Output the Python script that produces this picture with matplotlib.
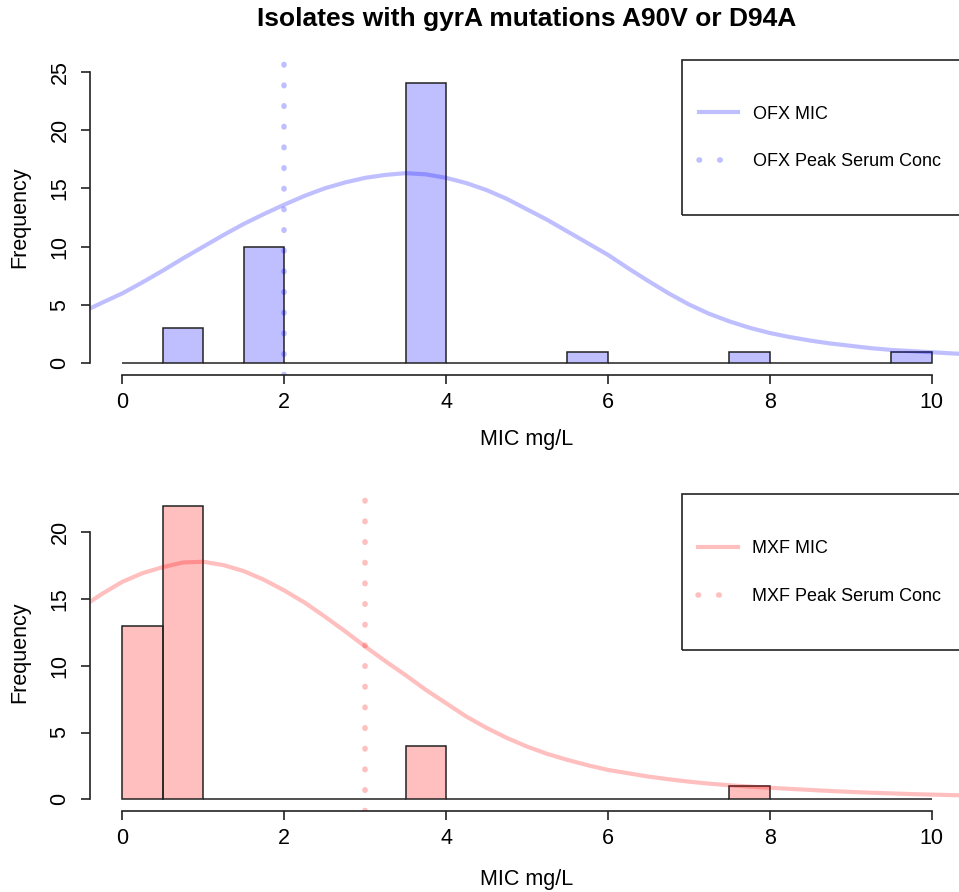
import matplotlib.pyplot as plt
from matplotlib.patches import Rectangle
from matplotlib.lines import Line2D

plt.rcParams['font.family'] = ['Liberation Sans', 'DejaVu Sans']

# histogram bins (left edges, width 0.5) and counts
bin_left = [0.0, 0.5, 1.0, 1.5, 2.0, 2.5, 3.0, 3.5, 4.0, 4.5,
            5.0, 5.5, 6.0, 6.5, 7.0, 7.5, 8.0, 8.5, 9.0, 9.5]
ofx_counts = [0, 3, 0, 10, 0, 0, 0, 24, 0, 0, 0, 1, 0, 0, 0, 1, 0, 0, 0, 1]
mxf_counts = [13, 22, 0, 0, 0, 0, 0, 4, 0, 0, 0, 0, 0, 0, 0, 1, 0, 0, 0, 0]

# fitted curves
curve_x = [-0.4, -0.25, 0.0, 0.25, 0.5, 0.75, 1.0, 1.25, 1.5, 1.75, 2.0, 2.25,
           2.5, 2.75, 3.0, 3.25, 3.5, 3.75, 4.0, 4.25, 4.5, 4.75, 5.0, 5.25,
           5.5, 5.75, 6.0, 6.25, 6.5, 6.75, 7.0, 7.25, 7.5, 7.75, 8.0, 8.25,
           8.5, 8.75, 9.0, 9.25, 9.5, 9.75, 10.0, 10.25, 10.4]
ofx_curve = [4.7, 5.2, 6.0, 6.95, 7.95, 9.0, 10.0, 11.0, 11.95, 12.8, 13.6, 14.35,
             15.0, 15.5, 15.9, 16.15, 16.3, 16.2, 15.9, 15.45, 14.85, 14.1, 13.2, 12.3,
             11.3, 10.3, 9.3, 8.15, 7.05, 6.0, 5.05, 4.25, 3.6, 3.05, 2.6, 2.25,
             1.95, 1.7, 1.5, 1.3, 1.15, 1.05, 0.95, 0.85, 0.8]
mxf_curve = [14.8, 15.4, 16.3, 16.95, 17.4, 17.75, 17.8, 17.55, 17.1, 16.45, 15.65, 14.75,
             13.7, 12.6, 11.45, 10.35, 9.3, 8.2, 7.2, 6.2, 5.35, 4.6, 3.95, 3.4,
             2.95, 2.55, 2.2, 1.95, 1.7, 1.5, 1.32, 1.17, 1.05, 0.95, 0.86, 0.78,
             0.7, 0.62, 0.55, 0.49, 0.44, 0.39, 0.35, 0.31, 0.29]

ofx_peak = 2
mxf_peak = 3

W, H = 959, 892
fig = plt.figure(figsize=(W / 100, H / 100), dpi=100)
DOTS = (0, (0.1, 3.62))


def px_axes(left, top, right, bottom):
    return fig.add_axes([left / W, 1 - bottom / H, (right - left) / W, (bottom - top) / H])


def panel(ax, counts, curve, peak, rgb, name, ylim, ymax_tick):
    col = rgb + (0.25,)
    ax.bar(bin_left, counts, width=0.5, align='edge', color=col,
           edgecolor='#222222', linewidth=1.1)
    ax.plot(curve_x, curve, color=col, lw=3, solid_joinstyle='round')
    ax.axvline(peak, color=col, lw=4, linestyle=DOTS, dash_capstyle='round')
    ax.set_xlim(-0.4, 10.4)
    ax.set_ylim(*ylim)
    for s in ['top', 'right']:
        ax.spines[s].set_visible(False)
    for s in ['left', 'bottom']:
        ax.spines[s].set_linewidth(1.2)
        ax.spines[s].set_color('#222222')
    ax.spines['bottom'].set_bounds(0, 10)
    ax.spines['left'].set_bounds(0, ymax_tick)
    ax.set_xticks([0, 2, 4, 6, 8, 10])
    ax.set_yticks(list(range(0, ymax_tick + 1, 5)))
    ax.tick_params(length=6.5, width=1.2, color='#222222', labelsize=15.5)
    ax.tick_params(axis='x', pad=5.8)
    ax.tick_params(axis='y', pad=7.5)
    for t in ax.get_yticklabels():
        t.set_rotation(90)
        t.set_va('center')
    ax.set_xlabel('MIC mg/L', fontsize=15.5)
    ax.set_ylabel('Frequency', fontsize=15.5)
    ax.xaxis.label.set_va('center')
    ax.yaxis.label.set_va('center')
    ax.patch.set_visible(False)

    # legend frame
    ax.add_patch(Rectangle((0.677, 0.508), 0.323, 0.492, transform=ax.transAxes,
                           fill=False, edgecolor='#222222', lw=1.2, clip_on=False))
    handles = [Line2D([], [], color=col, lw=3),
               Line2D([], [], color=col, lw=4, linestyle=DOTS, dash_capstyle='round')]
    ax.legend(handles, [name + ' MIC', name + ' Peak Serum Conc'], loc='center',
              bbox_to_anchor=(0.835, 0.752), frameon=False, fontsize=13,
              handlelength=2.2, handletextpad=0.8, labelspacing=1.7, borderpad=0)


ax1 = px_axes(90, 60, 964, 375)
panel(ax1, ofx_counts, ofx_curve, ofx_peak, (0.0, 0.0, 1.0), 'OFX', (-1, 26), 25)
ax1.xaxis.set_label_coords((527 - 90) / 874, (375 - 440) / 315)
ax1.yaxis.set_label_coords((20 - 90) / 874, 0.5)

ax2 = px_axes(90, 494, 964, 811)
panel(ax2, mxf_counts, mxf_curve, mxf_peak, (1.0, 0.0, 0.0), 'MXF', (-0.88, 22.88), 20)
ax2.xaxis.set_label_coords((527 - 90) / 874, (811 - 880) / 317)
ax2.yaxis.set_label_coords((20 - 90) / 874, 0.5)

fig.text(527 / W, 1 - 19 / H, 'Isolates with gyrA mutations A90V or D94A',
         ha='center', va='center', fontsize=19, fontweight='bold')

fig.savefig('out.png', dpi=100)
